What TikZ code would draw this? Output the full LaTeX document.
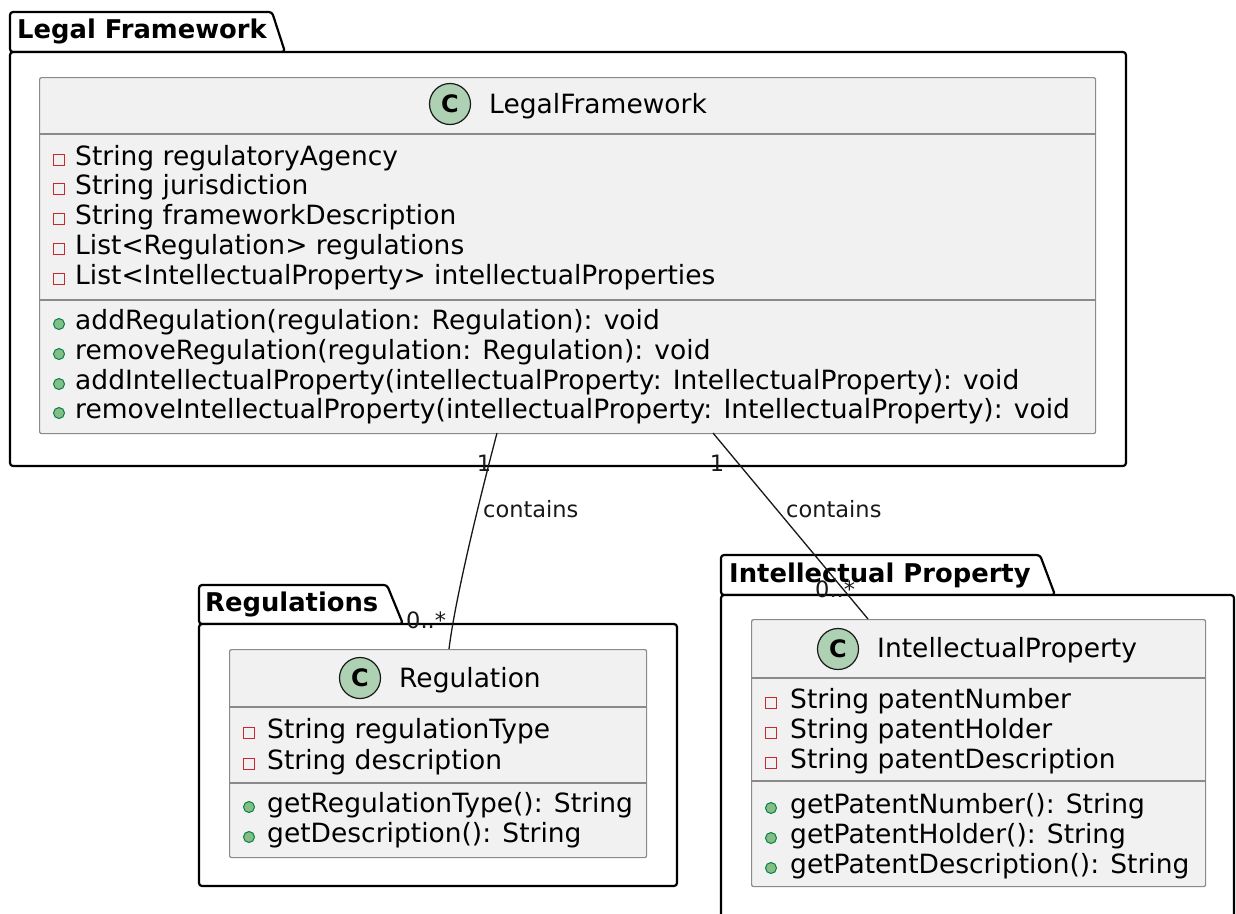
\documentclass[tikz,border=0pt]{standalone}
\usepackage{fontspec}
\setmainfont{DejaVu Sans}
\definecolor{clsfill}{HTML}{F1F1F1}
\definecolor{clsline}{HTML}{8A8A8A}
\definecolor{privred}{HTML}{C82930}
\definecolor{pubfill}{HTML}{84BE84}
\definecolor{publine}{HTML}{038048}
\definecolor{spotfill}{HTML}{ADD1B2}
\definecolor{ink}{HTML}{181818}
\begin{document}
\begin{tikzpicture}[x=1pt,y=-1pt,
 pkg/.style={draw=black, line width=2.2pt, fill=white, rounded corners=3pt, line join=round},
 pkglabel/.style={anchor=base west, inner sep=0, font=\fontsize{25.8}{30}\selectfont\bfseries},
 cls/.style={draw=clsline, line width=1.2pt, fill=clsfill, rounded corners=2pt, inner sep=0, anchor=north west},
 sep/.style={draw=clsline, line width=1.2pt},
 mem/.style={anchor=base west, inner sep=0, font=\fontsize{26.5}{30}\selectfont, text=black},
 priv/.style={draw=privred, line width=1pt, rectangle, minimum size=10.5pt, inner sep=0},
 pub/.style={draw=publine, fill=pubfill, line width=1pt, circle, minimum size=11pt, inner sep=0},
 spot/.style={draw=ink, fill=spotfill, line width=1.2pt, circle, minimum size=41pt, inner sep=0, font=\fontsize{24}{24}\selectfont\bfseries},
 assoc/.style={draw=ink, line width=1.3pt},
 lbl/.style={inner sep=0, font=\fontsize{22.5}{26}\selectfont, text=ink},
]
\useasboundingbox (0,0) rectangle (1236,913);
\clip (0,0) rectangle (1236,913);

% ---------- Legal Framework package ----------
\draw[pkg] (10,52) -- (10,12) -- (272,12) -- (285,52) -- cycle;
\draw[pkg] (10,52) -- (1126,52) -- (1126,466) -- (10,466) -- cycle;
\node[pkglabel] (pkgLF) at (17,38) {Legal Framework};

\node[cls, minimum width=1056pt, minimum height=356pt] (lf) at (39,77) {};
\draw[sep] (39,134) -- (1095,134);
\draw[sep] (39,300) -- (1095,300);
\node[spot] (lfspot) at (450,104) {C};
\node[mem] (lftitle) at (489,113) {LegalFramework};
\node[priv] (lfi1) at (59,160) {}; \node[mem] (lfa1) at (75,165) {String regulatoryAgency};
\node[priv] (lfi2) at (59,189) {}; \node[mem] (lfa2) at (75,194) {String jurisdiction};
\node[priv] (lfi3) at (59,219) {}; \node[mem] (lfa3) at (75,224) {String frameworkDescription};
\node[priv] (lfi4) at (59,249) {}; \node[mem] (lfa4) at (75,254) {List<Regulation> regulations};
\node[priv] (lfi5) at (59,279) {}; \node[mem] (lfa5) at (75,284) {List<IntellectualProperty> intellectualProperties};
\node[pub] (lfj1) at (59,324) {}; \node[mem] (lfm1) at (75,329) {addRegulation(regulation: Regulation): void};
\node[pub] (lfj2) at (59,354) {}; \node[mem] (lfm2) at (75,359) {removeRegulation(regulation: Regulation): void};
\node[pub] (lfj3) at (59,384) {}; \node[mem] (lfm3) at (75,389) {addIntellectualProperty(intellectualProperty: IntellectualProperty): void};
\node[pub] (lfj4) at (59,413) {}; \node[mem] (lfm4) at (75,418) {removeIntellectualProperty(intellectualProperty: IntellectualProperty): void};

% ---------- Regulations package ----------
\draw[pkg] (199,624) -- (199,585) -- (387,585) -- (403,624) -- cycle;
\draw[pkg] (199,624) -- (677,624) -- (677,886) -- (199,886) -- cycle;
\node[pkglabel] (pkgReg) at (205,611) {Regulations};

\node[cls, minimum width=417pt, minimum height=208pt] (reg) at (229,649) {};
\draw[sep] (229,707) -- (646,707);
\draw[sep] (229,783) -- (646,783);
\node[spot] (regspot) at (360,678) {C};
\node[mem] (regtitle) at (399,687) {Regulation};
\node[priv] (regi1) at (249,733) {}; \node[mem] (rega1) at (267,738) {String regulationType};
\node[priv] (regi2) at (249,764) {}; \node[mem] (rega2) at (267,769) {String description};
\node[pub] (regj1) at (249,807) {}; \node[mem] (regm1) at (267,812) {getRegulationType(): String};
\node[pub] (regj2) at (249,837) {}; \node[mem] (regm2) at (267,842) {getDescription(): String};

% ---------- Intellectual Property package ----------
\draw[pkg] (721,595) -- (721,555) -- (1040,555) -- (1055,595) -- cycle;
\draw[pkg] (721,595) -- (1234,595) -- (1234,940) -- (721,940) -- cycle;
\node[pkglabel] (pkgIP) at (729,582) {Intellectual Property};

\node[cls, minimum width=454pt, minimum height=267pt] (ip) at (751,619) {};
\draw[sep] (751,678) -- (1205,678);
\draw[sep] (751,781) -- (1205,781);
\node[spot] (ipspot) at (838,649) {C};
\node[mem] (iptitle) at (877,657) {IntellectualProperty};
\node[priv] (ipi1) at (771,703) {}; \node[mem] (ipa1) at (790,708) {String patentNumber};
\node[priv] (ipi2) at (771,733) {}; \node[mem] (ipa2) at (790,738) {String patentHolder};
\node[priv] (ipi3) at (771,763) {}; \node[mem] (ipa3) at (790,768) {String patentDescription};
\node[pub] (ipj1) at (771,808) {}; \node[mem] (ipm1) at (790,813) {getPatentNumber(): String};
\node[pub] (ipj2) at (771,838) {}; \node[mem] (ipm2) at (790,843) {getPatentHolder(): String};
\node[pub] (ipj3) at (771,868) {}; \node[mem] (ipm3) at (790,873) {getPatentDescription(): String};

% ---------- connectors ----------
\coordinate (lfA) at (497,433);
\coordinate (regT) at (449,649);
\coordinate (lfB) at (713,433);
\coordinate (ipT) at (868,619);
\draw[assoc] (lfA) .. controls (478,505) and (455,600) .. (regT);
\draw[assoc] (lfB) -- (ipT);

\node[lbl] (m1a) at (484,463) {1};
\node[lbl, anchor=base west] (c1) at (483,517) {contains};
\node[lbl, anchor=base west] (m1b) at (406,628) {0..*};
\node[lbl] (m2a) at (717,463) {1};
\node[lbl, anchor=base west] (c2) at (786,517) {contains};
\node[lbl, anchor=base west] (m2b) at (815,597) {0..*};
\end{tikzpicture}
\end{document}
